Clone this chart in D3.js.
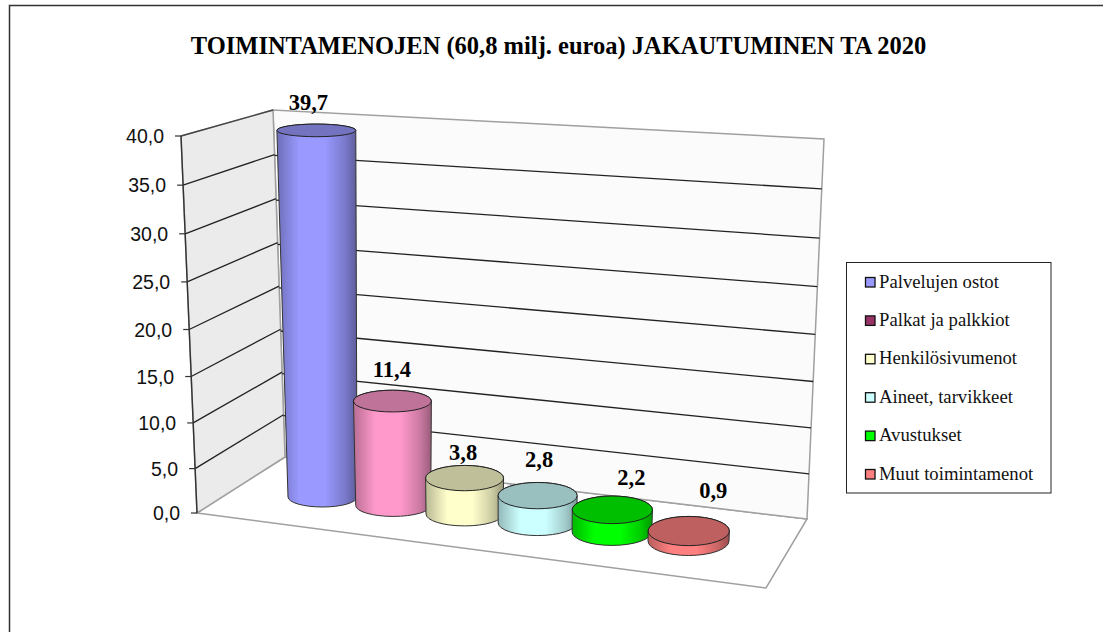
<!DOCTYPE html>
<html><head><meta charset="utf-8">
<script src="https://cdn.jsdelivr.net/npm/d3@7/dist/d3.min.js"></script>
<style>html,body{margin:0;padding:0;background:#fff}svg{display:block}</style>
</head><body><svg id="c" width="1103" height="632"></svg>
<script>
const titleText = "TOIMINTAMENOJEN (60,8 milj. euroa) JAKAUTUMINEN TA 2020";
const categories = ["Palvelujen ostot","Palkat ja palkkiot","Henkilösivumenot","Aineet, tarvikkeet","Avustukset","Muut toimintamenot"];
const values = [39.7,11.4,3.8,2.8,2.2,0.9];
const valueLabels = ["39,7","11,4","3,8","2,8","2,2","0,9"];
const barColors = ["#9999ff","#ff99cc","#ffffcc","#ccffff","#00ff00","#ff8080"];
const legendColors = ["#9999ff","#993366","#ffffcc","#ccffff","#00ff00","#ff8080"];
const axisTicks = [0,5,10,15,20,25,30,35,40];

// ---- layout ----
const frontLeftWall = [[197,513],[285,457],[273,110],[181,136]];
const backWall = [[285,457],[807,519],[824,139],[273,110]];
const floorQuad = [[197,513],[766,588],[807,519],[285,457]];
const barPlane = [[322.5,497],[688.5,541],[700,146],[316.3,129]];
const labelOffsets = [[-8,-20.5],[-0.5,-24.5],[-1.5,-18.5],[1.5,-29],[19,-24.5],[24.5,-33.5]];
const topLift = 1.5;

function homography(q){
  const [[x0,y0],[x1,y1],[x2,y2],[x3,y3]] = q;
  const dx1=x1-x2,dx2=x3-x2,sx=x0-x1+x2-x3,dy1=y1-y2,dy2=y3-y2,sy=y0-y1+y2-y3;
  const den=dx1*dy2-dx2*dy1, g=(sx*dy2-dx2*sy)/den, h=(dx1*sy-sx*dy1)/den;
  const a=x1-x0+g*x1,b=x3-x0+h*x3,d=y1-y0+g*y1,e=y3-y0+h*y3;
  return (u,v)=>{const w=g*u+h*v+1;return [(a*u+b*v+x0)/w,(d*u+e*v+y0)/w];};
}
const leftH=homography(frontLeftWall), backH=homography(backWall), barH=homography(barPlane);
const vScale=d3.scaleLinear().domain([0,40]).range([0,1]);
const vFront=d3.scalePow().exponent(1.015).domain([0,40]).range([0,1]);
const iScale=d3.scalePoint().domain(categories).range([0,1]);
const uWarp=d3.scalePow().exponent(0.985).domain([0,1]).range([0,1]);
const rxBase=d3.scaleLinear().domain([0,.2,.4,1]).range([34.5,37.5,38.5,40.5]);
const ryBase=d3.scaleLinear().domain([0,1]).range([10,14.5]);
const rxGrow=d3.scaleLinear().domain([0,40]).range([0,5]);
const ryTop=d3.scaleLinear().domain([0,.2,.4,.6,.8,1]).range([10,11.9,13,13.4,14,14.7]);
const ryGrow=d3.scaleLinear().domain([0,40]).range([0,-3.7]);

const svg=d3.select("#c");
const defs=svg.append("defs");
const poly=q=>"M"+q.map(p=>p.join(",")).join("L")+"Z";
const shade=(c,k)=>{const r=d3.rgb(c);return d3.rgb(r.r*k,r.g*k,r.b*k).formatHex();};

// outer frame
svg.append("path").attr("d","M9.5,632V5.5H1103").attr("fill","none").attr("stroke","#333").attr("stroke-width",1.5);

// title
svg.append("text").attr("x",558.5).attr("y",54).attr("text-anchor","middle")
  .attr("font-family","'Liberation Serif'").attr("font-weight","bold").attr("font-size",24.5).attr("fill","#000").text(titleText);

// walls
svg.append("path").attr("d",poly(floorQuad)).attr("fill","#fff").attr("stroke","#a0a0a0").attr("stroke-width",1.5);
svg.append("path").attr("d",poly(backWall)).attr("fill","#fbfbfb").attr("stroke","#a0a0a0").attr("stroke-width",1.5);
svg.append("path").attr("d",poly(frontLeftWall)).attr("fill","#ebebeb").attr("stroke","#a0a0a0").attr("stroke-width",1.5);

// gridlines
const grid=axisTicks.filter(t=>t>0);
const line=d3.line();
svg.append("g").selectAll("path").data(grid).join("path")
  .attr("d",t=>line([leftH(0,vFront(t)),leftH(1,vScale(t))])).attr("stroke",t=>t===40?"#444":"#222").attr("stroke-width",1.3).attr("fill","none");
svg.append("g").selectAll("path").data(grid.filter(t=>t<40)).join("path")
  .attr("d",t=>line([backH(0,vScale(t)),backH(1,vScale(t))])).attr("stroke","#222").attr("stroke-width",1.3).attr("fill","none");

// axis
svg.append("path").attr("d",line([leftH(0,1),leftH(0,0)])).attr("stroke","#333").attr("stroke-width",1.4).attr("fill","none");
const tick=svg.append("g").selectAll("g").data(axisTicks).join("g");
tick.append("line").attr("x1",t=>leftH(0,vFront(t))[0]-6).attr("x2",t=>leftH(0,vFront(t))[0])
  .attr("y1",t=>leftH(0,vFront(t))[1]).attr("y2",t=>leftH(0,vFront(t))[1]).attr("stroke","#333").attr("stroke-width",1.2);
tick.append("text").attr("x",t=>leftH(0,vFront(t))[0]-17).attr("y",t=>leftH(0,vFront(t))[1]+7)
  .attr("text-anchor","end").attr("font-family","'Liberation Sans'").attr("font-size",19.5).attr("fill","#111")
  .text(t=>t.toFixed(1).replace(".",","));

// cylinders
const bars=categories.map((name,i)=>{
  const u=uWarp(iScale(name)), v=values[i];
  const b=barH(u,0), t=barH(u,vScale(v));
  t[1]-=topLift;
  return {name,i,v,b,t,rb:rxBase(u),ryb:ryBase(u),rt:rxBase(u)+rxGrow(v),ryt:ryTop(u)+ryGrow(v),color:barColors[i]};
});
bars.forEach(d=>{
  const g=defs.append("linearGradient").attr("id","g"+d.i).attr("x1",0).attr("x2",1).attr("y1",0).attr("y2",0);
  [[0,.72],[.28,1],[.6,1],[.85,.8],[1,.6]].forEach(([o,k])=>g.append("stop").attr("offset",o).attr("stop-color",shade(d.color,k)));
});
const barG=svg.append("g").selectAll("g").data(bars).join("g");
barG.append("path").attr("d",d=>{
  return `M${d.t[0]-d.rt},${d.t[1]}L${d.b[0]-d.rb},${d.b[1]}A${d.rb},${d.ryb} 0 0 0 ${d.b[0]+d.rb},${d.b[1]}L${d.t[0]+d.rt},${d.t[1]}A${d.rt},${d.ryt} 0 0 0 ${d.t[0]-d.rt},${d.t[1]}Z`;
}).attr("fill",d=>`url(#g${d.i})`).attr("stroke","#333").attr("stroke-width",1);
barG.append("ellipse").attr("cx",d=>d.t[0]).attr("cy",d=>d.t[1]).attr("rx",d=>d.rt).attr("ry",d=>d.ryt)
  .attr("fill",d=>shade(d.color,.75)).attr("stroke","#222").attr("stroke-width",1);

// value labels
svg.append("g").selectAll("text").data(bars).join("text")
  .attr("x",d=>d.t[0]+labelOffsets[d.i][0]).attr("y",d=>d.t[1]+labelOffsets[d.i][1])
  .attr("text-anchor","middle").attr("font-family","'Liberation Serif'").attr("font-weight","bold").attr("font-size",22.5).attr("fill","#000")
  .text((d,i)=>valueLabels[i]);

// legend
svg.append("rect").attr("x",846.5).attr("y",262.5).attr("width",204.5).attr("height",230.5).attr("fill","#fff").attr("stroke","#222").attr("stroke-width",1);
const legY=d3.scalePoint().domain(categories).range([282,474]);
const leg=svg.append("g").selectAll("g").data(categories).join("g");
leg.append("rect").attr("x",865.5).attr("y",d=>legY(d)-4.5).attr("width",9.5).attr("height",9.5)
  .attr("fill",(d,i)=>legendColors[i]).attr("stroke","#111").attr("stroke-width",1.3);
leg.append("text").attr("x",879).attr("y",d=>legY(d)+5.5).attr("font-family","'Liberation Serif'").attr("font-size",18.7).attr("fill","#111").text(d=>d);
</script></body></html>
